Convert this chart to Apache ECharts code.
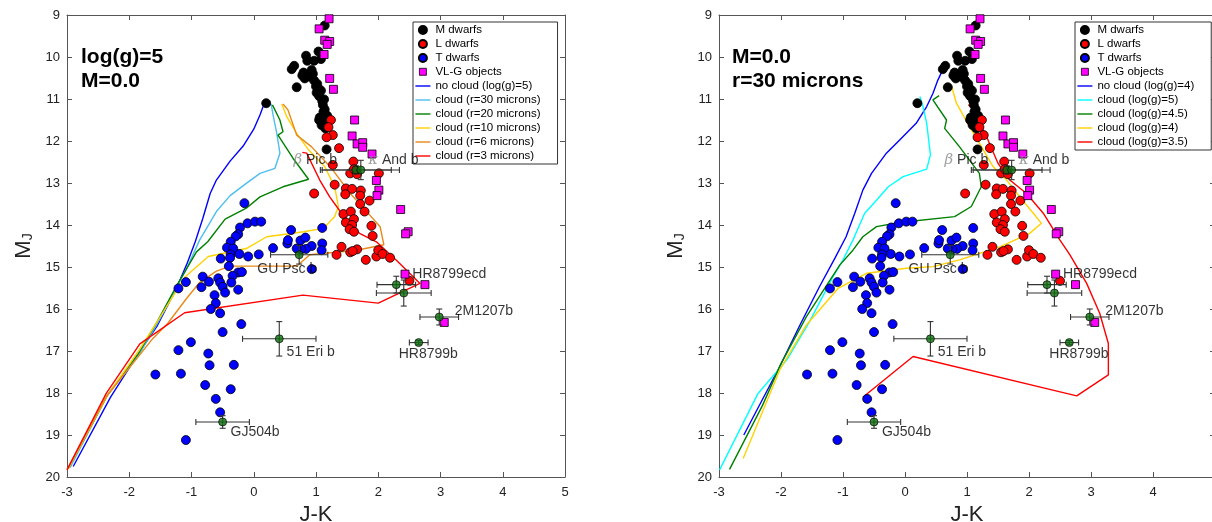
<!DOCTYPE html>
<html><head><meta charset="utf-8">
<script src="https://cdn.jsdelivr.net/npm/echarts@6/dist/echarts.min.js"></script>
<style>html,body{margin:0;padding:0;background:#fff}#c{width:1212px;height:522px}</style>
</head><body><div id="c"></div>
<script>
// ---------- observed data (J-K, M_J) ----------
const mDwarfs = [[1.14,9.25],[1.04,9.87],[0.84,9.97],[0.86,10.09],[0.97,10.09],[1.08,10.05],[0.65,10.21],[0.61,10.29],[0.80,10.37],[0.93,10.31],[0.82,10.51],[0.91,10.47],[0.97,10.56],[0.87,10.43],[0.69,10.72],[1.02,10.64],[1.04,10.75],[1.01,10.85],[1.05,10.93],[1.13,11.01],[1.11,11.14],[1.14,11.25],[1.06,11.44],[1.13,11.44],[1.18,11.40],[1.09,11.62],[1.14,11.56],[1.17,12.20],[0.20,11.10],[0.95,10.40],[1.00,10.70],[1.10,11.05],[1.12,11.30],[1.15,11.70],[0.78,10.44],[1.05,11.50],[1.08,10.80]];
const lDwarfs = [[1.24,11.50],[1.20,11.67],[1.27,11.86],[1.17,11.91],[1.37,12.17],[1.27,12.57],[1.60,12.49],[1.55,12.77],[1.61,12.67],[1.66,12.79],[2.01,12.77],[1.30,13.04],[1.48,13.13],[1.58,13.14],[1.72,13.18],[1.47,13.27],[1.71,13.30],[0.97,13.25],[1.86,13.42],[1.71,13.50],[1.78,13.68],[1.44,13.74],[1.56,13.68],[1.48,13.94],[1.61,13.86],[1.58,14.00],[1.54,14.10],[1.61,14.16],[1.89,14.02],[1.91,14.26],[1.41,14.52],[1.66,14.58],[1.55,14.65],[1.59,14.62],[1.33,14.71],[1.80,14.83],[1.97,14.75],[2.00,14.60],[2.07,14.69],[2.19,14.78],[2.50,15.33]];
const tDwarfs = [[-0.15,13.48],[-0.22,14.06],[-0.10,13.96],[0.02,13.92],[0.12,13.92],[-0.25,14.22],[-0.29,14.27],[-0.37,14.40],[-0.43,14.54],[-0.33,14.56],[-0.37,14.70],[-0.23,14.69],[-0.53,14.80],[-0.38,14.78],[-0.09,14.75],[0.08,14.70],[-0.40,14.98],[-0.25,15.13],[-0.19,15.12],[-0.34,15.21],[-0.82,15.23],[-0.72,15.35],[-0.57,15.27],[-0.54,15.37],[-0.84,15.48],[-0.36,15.37],[-0.50,15.47],[-0.46,15.61],[-0.25,15.54],[-0.63,15.67],[-0.61,15.86],[-0.69,16.00],[-0.54,16.10],[-1.09,15.36],[-1.21,15.51],[0.31,14.55],[0.54,14.44],[0.60,14.12],[0.75,14.37],[0.83,14.30],[0.93,14.50],[0.84,14.57],[0.76,14.58],[1.10,14.44],[1.09,14.60],[1.10,14.07],[0.93,15.05],[0.55,14.36],[0.69,14.56],[-0.20,16.36],[-0.50,16.55],[-1.01,16.79],[-1.21,16.98],[-0.73,17.06],[-0.71,17.34],[-0.32,17.33],[-1.58,17.56],[-1.17,17.54],[-0.78,17.81],[-0.37,17.91],[-0.61,18.14],[-0.54,18.46],[-1.09,19.12]];
const vlgObjects = [[1.21,9.09],[1.05,9.33],[1.14,9.60],[1.22,9.63],[1.18,9.70],[1.13,9.94],[1.22,10.51],[1.28,10.77],[1.62,11.50],[1.58,11.88],[1.66,12.07],[1.75,12.04],[1.75,12.15],[1.90,12.31],[1.97,12.94],[2.01,13.17],[1.98,13.30],[2.36,13.63],[2.48,14.16],[2.44,14.21],[2.43,15.17],[2.75,15.42],[3.06,16.32]];
// planets: [J-K, M_J, err J-K, err M_J]
const planets = [[1.64,12.69,0.57,0.10],[1.72,12.69,0.62,0.23],[0.73,14.71,0.46,0.22],[2.29,15.42,0.31,0.20],[2.41,15.62,0.44,0.31],[2.98,16.19,0.31,0.19],[2.65,16.80,0.15,0.05],[0.41,16.71,0.59,0.41],[-0.50,18.69,0.43,0.15]];
const planetLabelNames = ['β Pic b','κ And b','GU Psc b','HR8799ecd','2M1207b','HR8799b','51 Eri b','GJ504b'];
const planetLabelX = [0.63,1.83,0.05,2.54,3.22,2.32,0.52,-0.38];
const planetLabelY = [12.45,12.45,15.05,15.17,16.04,17.07,17.02,18.93];

// ---------- model tracks, left panel (log(g)=5, M=0.0) ----------
const leftNames = ['no cloud (log(g)=5)','cloud (r=30 microns)','cloud (r=20 microns)','cloud (r=10 microns)','cloud (r=6 microns)','cloud (r=3 microns)'];
const leftColors = ['#0000ff','#4dbeee','#008000','#ffd200','#e8891a','#ff0000'];
const leftNoCloud = [[0.17,11.10],[0.10,11.38],[0.00,11.72],[-0.17,12.12],[-0.38,12.48],[-0.60,12.93],[-0.70,13.25],[-0.82,13.85],[-0.94,14.40],[-1.08,14.95],[-1.24,15.50],[-1.55,16.40],[-1.87,17.10],[-2.30,18.10],[-2.90,19.75]];
const leftR30 = [[0.28,11.12],[0.31,11.38],[0.37,11.82],[0.42,12.29],[0.34,12.65],[0.10,12.77],[-0.12,13.01],[-0.38,13.30],[-0.60,13.68],[-0.87,14.36],[-1.05,14.95],[-1.24,15.50],[-1.55,16.35],[-1.85,17.10],[-2.35,18.05],[-2.95,19.78]];
const leftR20 = [[0.30,11.14],[0.42,11.50],[0.47,11.78],[0.39,11.86],[0.63,12.41],[0.88,12.91],[0.47,13.09],[0.10,13.33],[-0.12,13.60],[-0.46,13.86],[-0.74,14.40],[-0.92,14.64],[-1.24,15.45],[-1.55,16.30],[-1.85,17.05],[-2.35,18.05],[-2.98,19.80]];
const leftR10 = [[0.45,11.12],[0.53,11.42],[0.69,11.82],[0.88,12.21],[1.14,12.61],[1.30,13.09],[1.36,13.56],[1.30,13.80],[1.12,14.08],[0.80,14.16],[0.21,14.28],[-0.12,14.56],[-0.73,14.75],[-1.10,15.23],[-1.55,16.30],[-1.85,17.00],[-2.35,18.05],[-2.98,19.80]];
const leftR6 = [[0.47,11.12],[0.55,11.26],[0.69,11.86],[0.93,12.14],[1.25,12.65],[1.55,13.25],[1.79,13.64],[2.03,14.04],[2.09,14.47],[1.65,14.60],[0.90,14.71],[0.69,14.98],[-0.38,14.98],[-0.60,15.10],[-0.87,15.37],[-1.08,15.75],[-1.38,16.34],[-1.62,16.70],[-2.37,18.09],[-3.00,19.83]];
const leftR3 = [[0.78,12.27],[0.85,12.29],[1.06,12.93],[1.22,13.33],[1.41,13.72],[1.70,14.20],[1.97,14.40],[2.30,14.85],[2.67,15.39],[2.00,15.86],[0.79,15.67],[-1.11,16.09],[-1.83,16.83],[-2.37,18.01],[-3.00,19.83]];

// ---------- model tracks, right panel (M=0.0, r=30 microns) ----------
const rightNames = ['no cloud (log(g)=4)','cloud (log(g)=5)','cloud (log(g)=4.5)','cloud (log(g)=4)','cloud (log(g)=3.5)'];
const rightColors = ['#0000ff','#00ffff','#008000','#ffd200','#ff0000'];
const rightNoCloud = [[0.60,10.33],[0.53,10.55],[0.45,10.87],[0.35,11.18],[0.18,11.58],[-0.09,11.98],[-0.30,12.29],[-0.54,12.77],[-0.68,13.17],[-0.81,13.72],[-0.95,14.28],[-1.13,14.79],[-1.38,15.47],[-1.70,16.40],[-2.02,17.37],[-2.60,19.00]];
const rightG5 = [[0.24,10.94],[0.29,11.18],[0.35,11.58],[0.41,12.33],[0.35,12.67],[-0.03,12.85],[-0.27,13.09],[-0.46,13.41],[-0.65,13.72],[-0.84,14.36],[-1.00,14.83],[-1.16,15.23],[-1.54,16.30],[-1.90,17.20],[-2.37,18.01],[-2.99,19.83]];
const rightG45 = [[0.55,10.92],[0.45,11.02],[0.67,11.50],[0.64,11.70],[0.88,12.14],[1.20,12.77],[1.23,13.09],[1.07,13.56],[0.80,13.80],[-0.09,13.94],[-0.46,14.04],[-0.68,14.28],[-0.84,14.60],[-1.05,14.95],[-1.59,16.18],[-2.00,17.30],[-2.30,18.30],[-2.83,19.82]];
const rightG4 = [[0.75,10.69],[0.83,11.10],[1.04,11.66],[1.23,12.13],[1.42,12.61],[1.64,12.93],[1.85,13.33],[2.07,13.72],[2.20,13.96],[2.01,14.20],[1.53,14.52],[0.88,14.83],[0.45,14.99],[0.02,15.03],[-0.62,15.15],[-1.08,15.51],[-1.59,16.38],[-2.02,17.45],[-2.61,19.56]];
const rightG35 = [[1.02,11.14],[1.07,11.18],[1.18,11.50],[1.34,11.98],[1.50,12.53],[1.69,12.93],[1.96,13.25],[2.23,13.72],[2.50,14.36],[2.66,14.71],[2.93,15.39],[3.14,16.10],[3.28,16.82],[3.28,17.57],[2.77,18.07],[0.13,17.13],[-0.68,18.10]];

const leftTracks = [leftNoCloud, leftR30, leftR20, leftR10, leftR6, leftR3];
const rightTracks = [rightNoCloud, rightG5, rightG45, rightG4, rightG35];
const panelTitles = ['log(g)=5\nM=0.0', 'M=0.0\nr=30 microns'];
const pointNames = ['M dwarfs','L dwarfs','T dwarfs','VL-G objects'];

// ---------- chart ----------
const FONT = '"Liberation Sans", Arial, Helvetica, sans-serif';
const AX = '#555';
const chart = echarts.init(document.getElementById('c'));

const grids = [
  {left:67, top:15, width:498, height:462, containLabel:false, outerBoundsMode:'none'},
  {left:719, top:15, width:496, height:462, containLabel:false, outerBoundsMode:'none'}
];
const xAxes = [], yAxes = [];
grids.forEach((g, i) => {
  xAxes.push({gridIndex:i, type:'value', min:-3, max:5, interval:1, position:'bottom',
    axisLine:{show:true, onZero:false, lineStyle:{color:AX, width:1}},
    axisTick:{show:true, inside:true, length:5, lineStyle:{color:AX}},
    axisLabel:{fontSize:13, color:'#222', margin:9, fontFamily:FONT, showMaxLabel: i === 0},
    splitLine:{show:false},
    name:'J-K', nameLocation:'middle', nameGap:25,
    nameTextStyle:{fontSize:22, color:'#222', fontFamily:FONT}});
  xAxes.push({gridIndex:i, type:'value', min:-3, max:5, interval:1, position:'top',
    axisLine:{show:true, onZero:false, lineStyle:{color:AX, width:1}},
    axisTick:{show:true, inside:true, length:5, lineStyle:{color:AX}},
    axisLabel:{show:false}, splitLine:{show:false}});
  yAxes.push({gridIndex:i, type:'value', min:9, max:20, interval:1, inverse:true, position:'left',
    axisLine:{show:true, onZero:false, lineStyle:{color:AX, width:1}},
    axisTick:{show:true, inside:true, length:5, lineStyle:{color:AX}},
    axisLabel:{fontSize:13, color:'#222', margin:7, fontFamily:FONT},
    splitLine:{show:false},
    name:'{m|M}{s|J}', nameLocation:'middle', nameGap:32, nameRotate:90,
    nameTextStyle:{fontFamily:FONT, color:'#222', rich:{m:{fontSize:22, fontFamily:FONT, color:'#222'}, s:{fontSize:14, fontFamily:FONT, color:'#222', padding:[9,0,0,0]}}}});
  yAxes.push({gridIndex:i, type:'value', min:9, max:20, interval:1, inverse:true, position:'right',
    axisLine:{show:true, onZero:false, lineStyle:{color:AX, width:1}},
    axisTick:{show:true, inside:true, length:5, lineStyle:{color:AX}},
    axisLabel:{show:false}, splitLine:{show:false}});
});

function errItem(params, api) {
  const x = api.value(0), y = api.value(1), ex = api.value(2), ey = api.value(3);
  const l = api.coord([x - ex, y]), r = api.coord([x + ex, y]);
  const t = api.coord([x, y - ey]), b = api.coord([x, y + ey]);
  const c = 3, st = {stroke:'#333', lineWidth:1.1};
  const ln = (x1, y1, x2, y2) => ({type:'line', shape:{x1, y1, x2, y2}, style:st});
  return {type:'group', children:[
    ln(l[0], l[1], r[0], r[1]), ln(l[0], l[1]-c, l[0], l[1]+c), ln(r[0], r[1]-c, r[0], r[1]+c),
    ln(t[0], t[1], b[0], b[1]), ln(t[0]-c, t[1], t[0]+c, t[1]), ln(b[0]-c, b[1], b[0]+c, b[1])
  ]};
}

const labelData = planetLabelNames.map((n, i) => ({name:n, value:[planetLabelX[i], planetLabelY[i]]}));
const series = [];
[0, 1].forEach(p => {
  const xi = 2 * p, yi = 2 * p;
  const names = p === 0 ? leftNames : rightNames;
  const cols = p === 0 ? leftColors : rightColors;
  const tracks = p === 0 ? leftTracks : rightTracks;
  tracks.forEach((d, k) => series.push({type:'line', name:names[k], xAxisIndex:xi, yAxisIndex:yi, data:d,
    symbol:'none', smooth:false, z:2, color:cols[k], lineStyle:{color:cols[k], width:1.4}}));
  const ptSets = [mDwarfs, lDwarfs, tDwarfs, vlgObjects];
  const ptCols = ['#000000','#ff0000','#0000ff','#ff00ff'];
  ptSets.forEach((d, k) => series.push({type:'scatter', name:pointNames[k], xAxisIndex:xi, yAxisIndex:yi, data:d,
    symbol: k === 3 ? 'rect' : 'circle', symbolSize: k === 3 ? 8 : 9, z:3,
    itemStyle:{color:ptCols[k], borderColor:'#000', borderWidth:0.8, opacity:1}}));
  series.push({type:'custom', name:'err'+p, xAxisIndex:xi, yAxisIndex:yi, data:planets, encode:{x:0, y:1},
    renderItem:errItem, z:4});
  series.push({type:'scatter', name:'planets'+p, xAxisIndex:xi, yAxisIndex:yi, data:planets.map(r => [r[0], r[1]]),
    symbol:'circle', symbolSize:8, z:5, itemStyle:{color:'#0c6b0c', borderColor:'#000', borderWidth:0.8}});
  series.push({type:'scatter', name:'labels'+p, xAxisIndex:xi, yAxisIndex:yi, data:labelData,
    symbolSize:1, z:6, itemStyle:{color:'rgba(0,0,0,0)'},
    label:{show:true, position:'right', distance:0, fontSize:14, color:'#000', fontFamily:FONT,
      formatter: prm => /^[βκ]/.test(prm.name) ? '{g|' + prm.name[0] + '}' + prm.name.slice(1) : prm.name,
      rich:{g:{fontSize:15, color:'#888', fontStyle:'italic', fontFamily:'"DejaVu Serif", serif'}}}});
});

const LINE_ICON = 'path://M0,0 M0,3.3 L15,3.3 L15,4.7 L0,4.7 Z M15,8';
const SQUARE_ICON = 'path://M0,0 M4,0.3 L11,0.3 L11,7.3 L4,7.3 Z M15,8';
function legendData(lineNames) {
  return [
    {name:pointNames[0], icon:'circle'},
    {name:pointNames[1], icon:'circle'},
    {name:pointNames[2], icon:'circle'},
    {name:pointNames[3], icon:SQUARE_ICON, itemStyle:{borderColor:'#000', borderWidth:0.8}}
  ].concat(lineNames.map(n => ({name:n, icon:LINE_ICON, itemStyle:{borderWidth:0}})));
}
const legendCommon = {orient:'vertical', top:22, padding:[1,17,1,2], itemWidth:15, itemHeight:8, itemGap:0,
  backgroundColor:'#fff', borderColor:'#333', borderWidth:1, borderRadius:0, selectedMode:false,
  textStyle:{fontSize:11.5, lineHeight:14, color:'#000', fontFamily:FONT}};

chart.setOption({
  animation:false,
  backgroundColor:'#fff',
  grid:grids, xAxis:xAxes, yAxis:yAxes,
  title:[
    {text:panelTitles[0], left:81, top:45, padding:0, textStyle:{fontSize:21, fontWeight:'bold', lineHeight:24, color:'#000', fontFamily:FONT}},
    {text:panelTitles[1], left:732, top:45, padding:0, textStyle:{fontSize:21, fontWeight:'bold', lineHeight:24, color:'#000', fontFamily:FONT}}
  ],
  legend:[
    Object.assign({}, legendCommon, {left:413, data:legendData(leftNames)}),
    Object.assign({}, legendCommon, {left:1075, data:legendData(rightNames)})
  ],
  series:series
});
</script></body></html>
